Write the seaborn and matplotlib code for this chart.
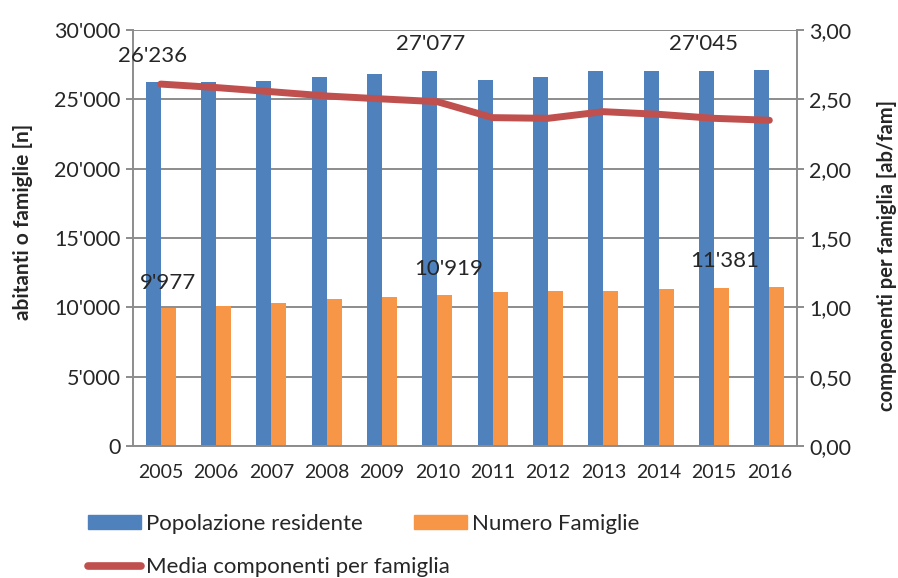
import numpy as np
import pandas as pd
import matplotlib
matplotlib.use("Agg")
import matplotlib.pyplot as plt
from matplotlib.ticker import FuncFormatter, FixedLocator
from matplotlib.patches import Patch
from matplotlib.lines import Line2D
import seaborn as sns

years = [2005, 2006, 2007, 2008, 2009, 2010, 2011, 2012, 2013, 2014, 2015, 2016]
popolazione = [26236, 26260, 26350, 26640, 26800, 27077, 26370, 26640, 27070, 27050, 27045, 27090]
famiglie = [9977, 10080, 10300, 10590, 10735, 10919, 11070, 11210, 11160, 11310, 11381, 11500]
media = [2.61, 2.585, 2.555, 2.524, 2.503, 2.483, 2.368, 2.363, 2.411, 2.392, 2.363, 2.349]

BLUE = "#4F81BD"
ORANGE = "#F79646"
RED = "#C0504D"
GRID = "#8C8C8C"

sns.set_theme(style="white")
plt.rcParams["font.family"] = ["Lato", "DejaVu Sans"]

df = pd.DataFrame({"anno": years * 2,
                   "valore": popolazione + famiglie,
                   "serie": ["Popolazione residente"] * 12 + ["Numero Famiglie"] * 12})

fig = plt.figure(figsize=(8.98, 5.78), dpi=100)
ax = fig.add_axes([133 / 898, 132 / 578, 664 / 898, 416 / 578])
sns.barplot(data=df, x="anno", y="valore", hue="serie", ax=ax,
            palette=[BLUE, ORANGE], width=0.54, gap=0, legend=False,
            saturation=1, edgecolor="none")
ax.set_xlim(-0.5, 11.5)
ax.set_ylim(0, 30000)
ax.set_yticks(np.arange(0, 30001, 5000))
ax.yaxis.set_major_formatter(FuncFormatter(lambda v, p: f"{int(v):,}".replace(",", "'")))
ax.grid(axis="y", color=GRID, linewidth=1.4)
ax.set_axisbelow(True)
ax.set_xlabel("")
ax.set_ylabel("abitanti o famiglie [n]", fontsize=15, fontweight="bold")
ax.yaxis.set_label_coords(-0.151, 0.538)
ax.tick_params(axis="x", which="major", length=0, labelsize=14, pad=13)
ax.xaxis.set_minor_locator(FixedLocator(np.arange(-0.5, 12, 1)))
ax.tick_params(axis="x", which="minor", length=5, width=1.4, color=GRID, direction="out")
ax.tick_params(axis="y", length=5, width=1.4, color=GRID, labelsize=15.5, left=True, pad=4)
for s in ["left", "bottom", "right"]:
    ax.spines[s].set_color(GRID)
    ax.spines[s].set_linewidth(1.4)
ax.spines["top"].set_visible(False)

ax2 = ax.twinx()
sns.lineplot(x=np.arange(12), y=media, ax=ax2, color=RED, linewidth=5,
             solid_capstyle="round")
ax2.set_ylim(0, 3)
ax2.set_yticks(np.arange(0, 3.01, 0.5))
ax2.yaxis.set_major_formatter(FuncFormatter(lambda v, p: f"{v:.2f}".replace(".", ",")))
ax2.set_ylabel("compeonenti per famiglia [ab/fam]", fontsize=14.5, fontweight="bold")
ax2.yaxis.set_label_coords(1.121, 0.459)
ax2.tick_params(axis="y", length=5, width=1.4, color=GRID, labelsize=15.5, right=True, pad=4)
for s in ["left", "bottom", "right", "top"]:
    ax2.spines[s].set_visible(False)

# etichette dei valori
def lab(i, val, dx, dy):
    ax.annotate(f"{val:,}".replace(",", "'"), (i, val), xytext=(dx, dy),
                textcoords="offset pixels", ha="center", va="center", fontsize=16)

lab(0, popolazione[0], -8, 26)
lab(5, popolazione[5], -7, 27)
lab(10, popolazione[10], -10, 27)
lab(0, famiglie[0], 7, 25)
lab(5, famiglie[5], 11, 26)
lab(10, famiglie[10], 11, 27)

handles = [Patch(color=BLUE, label="Popolazione residente"),
           Line2D([], [], color=RED, linewidth=5.5, solid_capstyle="round",
                  label="Media componenti per famiglia"),
           Patch(color=ORANGE, label="Numero Famiglie")]
fig.legend(handles=handles, ncol=2, loc="upper left", bbox_to_anchor=(88 / 898, 1 - 514 / 578),
           frameon=False, fontsize=16, handlelength=2.4, handleheight=0.6,
           handletextpad=0.2, columnspacing=-1.6, labelspacing=1.05,
           borderaxespad=0, borderpad=0)

fig.savefig("out.png", dpi=100)
